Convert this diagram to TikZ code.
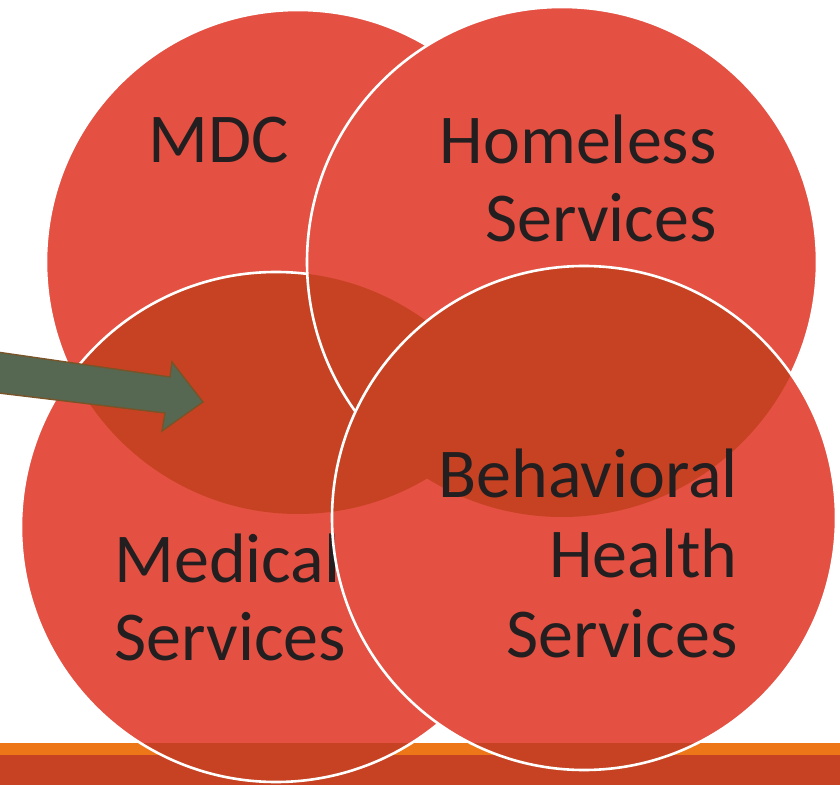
\documentclass[tikz,border=0pt]{standalone}
\usepackage{fontspec}
\setmainfont{Carlito}
\usetikzlibrary{positioning}

\definecolor{dotred}{RGB}{228,80,66}
\definecolor{deepred}{RGB}{199,66,34}
\definecolor{barorange}{RGB}{236,118,24}
\definecolor{arrowgreen}{RGB}{86,104,82}
\definecolor{arrowrim}{RGB}{120,84,40}
\definecolor{inkgray}{RGB}{35,31,32}

\tikzset{
  rim/.style={draw=white, line width=1.3pt},
  tagtext/.style={inner sep=0pt, text=inkgray, font=\fontsize{35}{39}\selectfont},
  bigarrow/.style={fill=arrowgreen, draw=arrowrim, line width=0.7pt, line join=miter}
}

\begin{document}
\begin{tikzpicture}[x=0.5pt,y=-0.5pt]
  \useasboundingbox (0,0) rectangle (840,785);
  % circle centres
  \coordinate (mdc) at (298,262);
  \coordinate (home) at (562,262);
  \coordinate (med) at (276,527);
  \coordinate (beh) at (584,518);

  % band along the bottom
  \fill[barorange] (0,743) rectangle (840,755);
  \fill[deepred] (0,755) rectangle (840,785);

  % MDC
  \begin{scope}
    \clip (mdc) circle (252);
    \fill[dotred] (0,0) rectangle (840,785);
    \fill[deepred] (med) circle (255) (beh) circle (252);
    \fill[deepred] (0,743) rectangle (840,785);
  \end{scope}
  \draw[rim] (mdc) circle (252);

  % Medical
  \begin{scope}
    \clip (med) circle (255);
    \fill[dotred] (0,0) rectangle (840,785);
    \fill[deepred] (mdc) circle (252) (home) circle (255);
    \fill[deepred] (0,743) rectangle (840,785);
  \end{scope}
  \draw[rim] (med) circle (255);
  \node[tagtext, align=left, anchor=base west] (medtext) at (114,660) {Medical\\Services};

  % Homeless
  \begin{scope}
    \clip (home) circle (255);
    \fill[dotred] (0,0) rectangle (840,785);
    \fill[deepred] (med) circle (255) (beh) circle (252);
    \fill[deepred] (0,743) rectangle (840,785);
  \end{scope}
  \draw[rim] (home) circle (255);

  % Behavioral
  \begin{scope}
    \clip (beh) circle (252);
    \fill[dotred] (0,0) rectangle (840,785);
    \fill[deepred] (mdc) circle (252) (home) circle (255);
    \fill[deepred] (0,743) rectangle (840,785);
    \node[tagtext, align=left, anchor=base west, opacity=0.3] at (medtext.base west) {Medical\\Services};
  \end{scope}
  \draw[rim] (beh) circle (252);

  \node[tagtext, anchor=base] (mdctext) at (219,163) {MDC};
  \node[tagtext, align=right, anchor=base east] (hometext) at (717,242) {Homeless\\Services};
  \node[tagtext, align=right, anchor=base east, font=\fontsize{35}{40}\selectfont] (behtext) at (738,657) {Behavioral\\Health\\Services};

  % arrow
  \draw[bigarrow] (-10,351) -- (170,377) -- (172,362) -- (203,402)
    -- (162,431) -- (165,413) -- (-10,392) -- cycle;
\end{tikzpicture}
\end{document}
